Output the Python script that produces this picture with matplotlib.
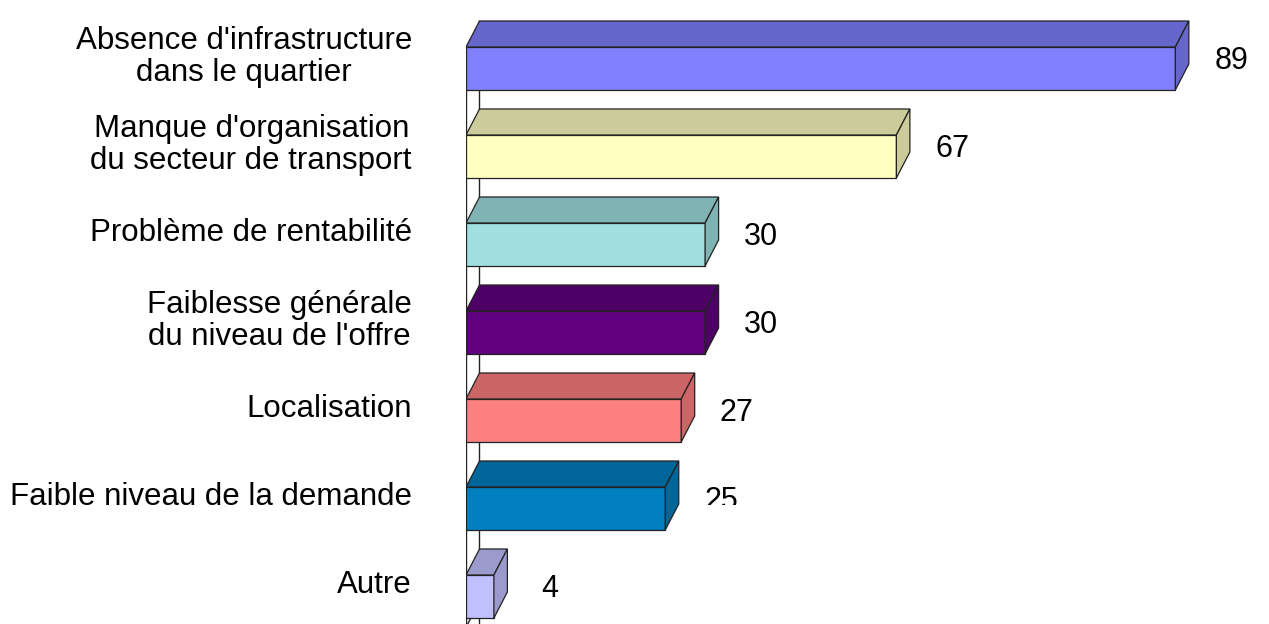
import matplotlib
matplotlib.use('Agg')
import matplotlib.pyplot as plt
from matplotlib.patches import Polygon, Rectangle
import numpy as np

categories = [
    "Absence d'infrastructure\ndans le quartier",
    "Manque d'organisation\ndu secteur de transport",
    "Problème de rentabilité",
    "Faiblesse générale\ndu niveau de l'offre",
    "Localisation",
    "Faible niveau de la demande",
    "Autre",
]
# longueurs des barres (la barre "67" est plus courte dans l'original)
lengths = [89, 54, 30, 30, 27, 25, 3.5]
value_labels = ['89', '67', '30', '30', '27', '25', '4']
front_colors = ['#8080FF', '#FFFFC0', '#A0E0E0', '#600080', '#FF8080', '#0080C0', '#C0C0FF']

plt.rcParams['font.family'] = ['Liberation Sans', 'DejaVu Sans']

W, H = 1269, 624
x0_px = 466        # position de l'axe
px_per_unit = 7.97
row_px = 88
first_px = 68.5

fig = plt.figure(figsize=(W / 100, H / 100), dpi=100)
ax = fig.add_axes([x0_px / W, 0, 1 - x0_px / W, 1])
ax.set_xlim(0, (W - x0_px) / px_per_unit)
ax.set_ylim((H - first_px) / row_px, -first_px / row_px)
ax.axis('off')

h = 21.5 / row_px          # demi-hauteur de la face avant
dx = 13.5 / px_per_unit    # profondeur horizontale
dy = 26 / row_px           # profondeur verticale
edge = '#222222'
y_bottom = ax.get_ylim()[0]

# murs (lignes verticales derrière les barres)
ax.plot([0, 0], [-h, y_bottom], color=edge, lw=1, zorder=1)
ax.plot([dx, dx], [-h - dy, y_bottom], color=edge, lw=1, zorder=1)
# arête du sol
ax.plot([0, dx], [6.35, 6.35 - dy], color=edge, lw=1, zorder=1)


def darker(c, f=0.8):
    rgb = np.array(matplotlib.colors.to_rgb(c))
    return tuple(rgb * f)


for i, (L, col, lab) in enumerate(zip(lengths, front_colors, value_labels)):
    top = i - h
    bot = i + h
    dark = darker(col)
    ax.add_patch(Rectangle((0, top), L, 2 * h, facecolor=col, edgecolor=edge, lw=0.9, zorder=3))
    ax.add_patch(Polygon([(0, top), (L, top), (L + dx, top - dy), (dx, top - dy)],
                         closed=True, facecolor=dark, edgecolor=edge, lw=0.9, zorder=3))
    ax.add_patch(Polygon([(L, top), (L + dx, top - dy), (L + dx, bot - dy), (L, bot)],
                         closed=True, facecolor=dark, edgecolor=edge, lw=0.9, zorder=3))

    t = ax.text(L + dx + 5.3, i - 0.09, lab, ha='center', va='center',
                fontsize=22, color='black', zorder=4)
    if lab == '25':
        # l'étiquette est coupée dans l'original
        clip = Rectangle((0, -1), 200, 4.96 + 1, transform=ax.transData)
        t.set_clip_on(True)
        t.set_clip_path(clip)

for i, cat in enumerate(categories):
    ax.text(-54 / px_per_unit, i - 0.13, cat, ha='right', va='center',
            multialignment='center', fontsize=22.5, linespacing=1.05,
            color='black', clip_on=False)

fig.savefig('out.png', dpi=100)
